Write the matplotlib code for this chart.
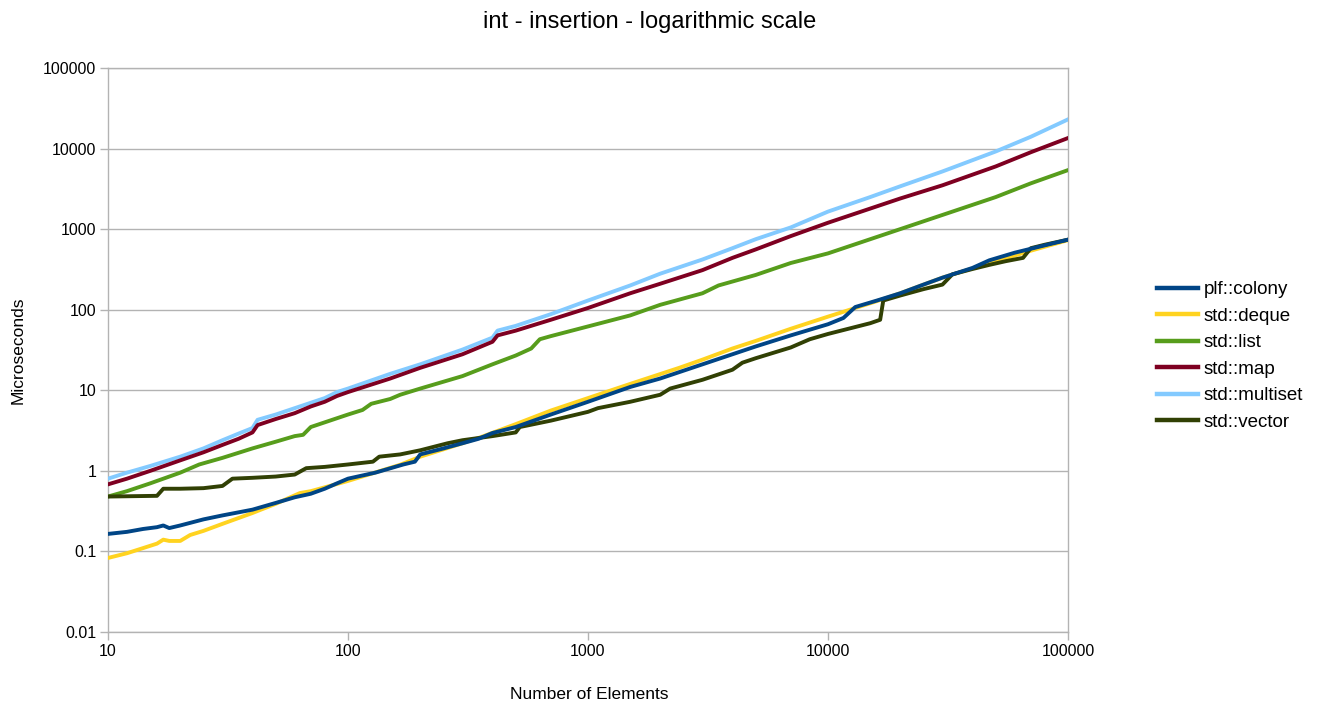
import numpy as np
import matplotlib
matplotlib.use("Agg")
import matplotlib.pyplot as plt
from matplotlib.ticker import FixedLocator, FuncFormatter, NullLocator

plt.rcParams['font.family'] = ['Liberation Sans', 'DejaVu Sans']

# timings in microseconds, per container
colony_x = [10, 12, 14, 16, 17, 18, 20, 25, 30, 40, 50, 60, 70, 80, 90, 100, 130, 170, 190, 200,
            250, 300, 350, 400, 500, 700, 1000, 1500, 2000, 3000, 4000, 5000, 7000, 10000, 11600,
            13000, 16000, 20000, 25000, 30000, 40000, 47000, 60000, 100000]
colony_y = [0.165, 0.175, 0.19, 0.2, 0.21, 0.195, 0.21, 0.25, 0.28, 0.33, 0.4, 0.47, 0.52, 0.6, 0.7,
            0.8, 0.95, 1.2, 1.3, 1.6, 1.9, 2.2, 2.5, 2.95, 3.5, 5.0, 7.2, 11, 14, 21, 28, 35, 48, 66,
            79, 108, 130, 160, 205, 250, 330, 410, 510, 740]

deque_x = [10, 12, 14, 16, 17, 18, 20, 22, 25, 30, 40, 50, 63, 70, 100, 165, 200, 300, 355, 500,
           700, 1000, 1500, 2400, 3000, 4000, 5000, 7000, 10000, 13000, 16000, 20000, 30000, 50000,
           70000, 100000]
deque_y = [0.083, 0.095, 0.11, 0.125, 0.14, 0.135, 0.135, 0.16, 0.18, 0.22, 0.3, 0.39, 0.53, 0.56,
           0.75, 1.19, 1.5, 2.2, 2.6, 3.8, 5.6, 8.0, 12, 19, 24, 33, 41, 58, 82, 105, 128, 160, 250,
           400, 540, 730]

list_x = [10, 12, 15, 20, 24, 30, 40, 50, 60, 65, 70, 80, 100, 115, 125, 150, 165, 200, 300, 400,
          500, 580, 630, 700, 1000, 1500, 2000, 3000, 3500, 5000, 7000, 10000, 15000, 20000, 30000,
          50000, 70000, 100000]
list_y = [0.48, 0.56, 0.7, 0.95, 1.2, 1.45, 1.9, 2.3, 2.7, 2.8, 3.5, 4.0, 5.0, 5.7, 6.8, 7.8, 8.8,
          10.5, 15, 21, 27, 33, 43, 47, 62, 85, 115, 160, 200, 270, 380, 500, 750, 1000, 1500, 2500,
          3700, 5400]

map_x = [10, 12, 15, 20, 25, 30, 35, 40, 42, 50, 60, 70, 80, 90, 100, 150, 200, 300, 400, 420, 500,
         700, 1000, 1500, 2000, 3000, 4000, 5000, 7000, 10000, 15000, 20000, 30000, 50000, 70000,
         100000]
map_y = [0.68, 0.8, 1.0, 1.35, 1.7, 2.1, 2.5, 3.0, 3.7, 4.4, 5.2, 6.3, 7.2, 8.5, 9.5, 14, 19, 28, 40,
         48, 55, 75, 105, 160, 210, 310, 440, 560, 820, 1200, 1800, 2400, 3500, 6000, 9000, 13500]

multiset_x = [10, 12, 15, 20, 25, 30, 35, 40, 42, 50, 60, 70, 80, 90, 100, 150, 200, 300, 400, 420,
              500, 700, 1000, 1500, 2000, 3000, 4000, 5000, 7000, 10000, 15000, 20000, 30000, 50000,
              70000, 100000]
multiset_y = [0.8, 0.95, 1.15, 1.5, 1.9, 2.4, 2.9, 3.4, 4.3, 5.0, 6.0, 7.0, 8.0, 9.5, 10.5, 16, 21,
              32, 45, 55, 63, 88, 130, 200, 280, 420, 580, 750, 1050, 1650, 2500, 3400, 5200, 9200,
              14000, 23000]

vector_x = [10, 16, 17, 20, 25, 30, 33, 40, 50, 60, 67, 80, 100, 127, 135, 165, 200, 260, 300, 400,
            500, 520, 700, 1000, 1100, 1500, 2000, 2200, 3000, 4000, 4400, 5000, 7000, 8400, 10000,
            15000, 16500, 17000, 20000, 25000, 30000, 33000, 40000, 47000, 55000, 65000, 70000,
            80000, 100000]
vector_y = [0.48, 0.49, 0.6, 0.6, 0.61, 0.65, 0.8, 0.82, 0.85, 0.9, 1.08, 1.12, 1.2, 1.3, 1.5, 1.6,
            1.8, 2.2, 2.4, 2.7, 3.0, 3.5, 4.2, 5.4, 6.0, 7.2, 8.8, 10.5, 13.5, 18, 22, 25, 34, 43,
            50, 68, 75, 130, 150, 180, 205, 275, 320, 360, 400, 440, 580, 640, 740]

names = ['plf::colony', 'std::deque', 'std::list', 'std::map', 'std::multiset', 'std::vector']
colors = ['#004586', '#ffd320', '#579d1c', '#7e0021', '#83caff', '#314004']
series = [(colony_x, colony_y), (deque_x, deque_y), (list_x, list_y),
          (map_x, map_y), (multiset_x, multiset_y), (vector_x, vector_y)]
zorders = [8, 3, 4, 5, 4.5, 6]

fig = plt.figure(figsize=(13.25, 7.06), dpi=100)
ax = fig.add_axes([0.0815, 0.1048, 0.7245, 0.7989])

for (xs, ys), name, c, z in zip(series, names, colors, zorders):
    ax.plot(xs, ys, color=c, lw=2.8, label=name, zorder=z, solid_joinstyle='round')

ax.set_xscale('log')
ax.set_yscale('log')
ax.set_xlim(10, 100000)
ax.set_ylim(0.01, 100000)

xt = [10, 100, 1000, 10000, 100000]
yt = [0.01, 0.1, 1, 10, 100, 1000, 10000, 100000]
ax.xaxis.set_major_locator(FixedLocator(xt))
ax.yaxis.set_major_locator(FixedLocator(yt))
ax.xaxis.set_minor_locator(NullLocator())
ax.yaxis.set_minor_locator(NullLocator())
fmt = FuncFormatter(lambda v, p: '%g' % v)
ax.xaxis.set_major_formatter(fmt)
ax.yaxis.set_major_formatter(fmt)

ax.grid(axis='y', color='#b3b3b3', lw=1.0)
ax.set_axisbelow(True)
for s in ax.spines.values():
    s.set_color('#b3b3b3')
    s.set_linewidth(1.0)
ax.tick_params(axis='both', which='major', color='#b3b3b3', length=6, width=1.0,
               labelsize=11.5, labelcolor='#000000', pad=2.5)

fig.text(0.4906, 0.969, 'int - insertion - logarithmic scale', ha='center', va='center', fontsize=17)
fig.text(0.445, 0.0156, 'Number of Elements', ha='center', va='center', fontsize=12.5)
fig.text(0.0136, 0.504, 'Microseconds', ha='center', va='center', rotation=90, fontsize=12.5)

leg = fig.legend(loc='center left', bbox_to_anchor=(0.8676, 0.4958), frameon=False,
                 fontsize=13.5, handlelength=2.2, handletextpad=0.27, labelspacing=0.5,
                 borderaxespad=0)
for h in leg.get_lines():
    h.set_linewidth(3.2)

fig.savefig('out.png', dpi=100)
